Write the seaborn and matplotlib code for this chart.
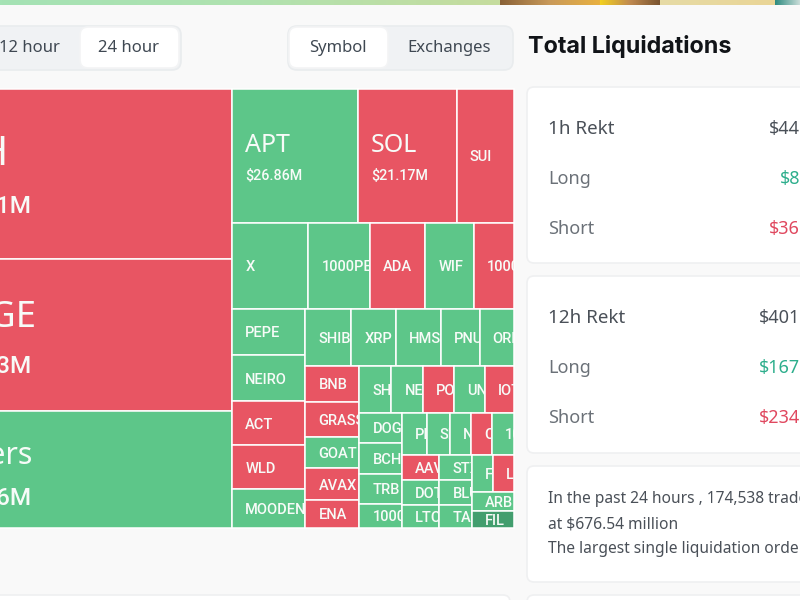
import matplotlib
matplotlib.use("Agg")
import matplotlib.pyplot as plt
from matplotlib.patches import FancyBboxPatch
import numpy as np
import seaborn as sns

big_symbols = ["ETH", "DOGE", "Others"]
big_amounts = [84.31, 75.43, 58.06]
big_sides = ["short", "short", "long"]

top_symbols = ["APT", "SOL", "SUI"]
top_amounts = [26.86, 21.17, 12.22]
top_sides = ["long", "short", "short"]

second_symbols = ["X", "1000PEPE", "ADA", "WIF", "1000BONK"]
second_amounts = [10.46, 8.39, 7.64, 6.67, 5.50]
second_sides = ["long", "long", "short", "long", "short"]

third_symbols = ["PEPE", "NEIRO", "ACT", "WLD", "MOODENG"]
third_amounts = [5.49, 5.37, 5.14, 5.14, 4.56]
third_sides = ["long", "long", "short", "short", "long"]

fourth_symbols = ["SHIB", "XRP", "HMSTR", "PNUT", "ORDI"]
fourth_amounts = [4.20, 4.10, 4.06, 3.56, 3.15]
fourth_sides = ["long"] * 5

fifth_symbols = ["BNB", "GRASS", "GOAT", "AVAX", "ENA"]
fifth_amounts = [3.11, 3.07, 2.68, 2.72, 2.42]
fifth_sides = ["short", "short", "long", "short", "short"]

sixth_symbols = ["SHELL", "NEAR", "POPCAT", "UNI", "IOTA"]
sixth_amounts = [2.41, 2.41, 2.33, 2.33, 2.18]
sixth_sides = ["long", "long", "short", "long", "short"]

seventh_symbols = ["DOGS", "BCH", "TRB", "1000SATS"]
seventh_amounts = [2.06, 2.13, 2.06, 1.65]
seventh_sides = ["long"] * 4

eighth_symbols = ["PEOPLE", "SEI", "NOT", "CRV", "1000FLOKI"]
eighth_amounts = [1.65, 1.55, 1.44, 1.41, 1.48]
eighth_sides = ["long", "long", "long", "short", "long"]

ninth_symbols = ["AAVE", "DOT", "LTC"]
ninth_amounts = [1.45, 1.51, 1.36]
ninth_sides = ["short", "long", "long"]

tenth_symbols = ["STX", "BLUR", "TAO"]
tenth_amounts = [1.30, 1.30, 1.20]
tenth_sides = ["long"] * 3

last_symbols = ["FET", "LINK", "ARB", "FIL"]
last_amounts = [1.24, 1.24, 1.28, 1.14]
last_sides = ["long", "short", "long", "dark"]

panel_1h = ["$44.72M", "$8.21M", "$36.51M"]
panel_12h = ["$401.63M", "$167.42M", "$234.21M"]
panel_names_1h = ["1h Rekt", "Long", "Short"]
panel_names_12h = ["12h Rekt", "Long", "Short"]
summary_lines = [
    "In the past 24 hours , 174,538 traders were liquidated, the total",
    "at $676.54 million",
    "The largest single liquidation order happened on Binance",
]

side_colors = {"long": "#5DC689", "short": "#E85563", "dark": "#429E6E"}

bg = "#F9F9F9"
sns.set_theme(style="white", rc={"figure.facecolor": bg, "axes.facecolor": bg})
plt.rcParams["font.family"] = ["Noto Sans", "DejaVu Sans"]


def group(symbols, amounts, sides):
    return [dict(symbol=a, amount=b, side=c) for a, b, c in zip(symbols, amounts, sides)]


def total(node):
    if isinstance(node, dict):
        return node["amount"]
    return sum(total(n) for n in node)


# nested lists flip direction at each level, same as the site treemap
last_col = [group(last_symbols[:2], last_amounts[:2], last_sides[:2])] + group(last_symbols[2:], last_amounts[2:], last_sides[2:])
bottom_cols = [group(ninth_symbols, ninth_amounts, ninth_sides),
               group(tenth_symbols, tenth_amounts, tenth_sides),
               last_col]
block_e = [group(eighth_symbols, eighth_amounts, eighth_sides), bottom_cols]
block_d = [group(seventh_symbols, seventh_amounts, seventh_sides), block_e]
block_c = [group(sixth_symbols, sixth_amounts, sixth_sides), block_d]
block_b = [group(fifth_symbols, fifth_amounts, fifth_sides), block_c]
block_a = [group(fourth_symbols, fourth_amounts, fourth_sides), block_b]
block_3 = [group(third_symbols, third_amounts, third_sides), block_a]
right_side = [group(top_symbols, top_amounts, top_sides),
              group(second_symbols, second_amounts, second_sides),
              block_3]
tree = [group(big_symbols, big_amounts, big_sides), right_side]


def lay_out(node, x, y, w, h, horizontal, tiles):
    if isinstance(node, dict):
        tiles.append((node, x, y, w, h))
        return
    whole = total(node)
    for child in node:
        share = total(child) / whole
        if horizontal:
            lay_out(child, x, y, w * share, h, False, tiles)
            x += w * share
        else:
            lay_out(child, x, y, w, h * share, True, tiles)
            y += h * share


def card(ax, x, y, w, h, face="white", edge="#EFF0F1", r=7):
    ax.add_patch(FancyBboxPatch((x + r, y + r), w - 2 * r, h - 2 * r, boxstyle=f"round,pad={r},rounding_size={r}",
                                fc=face, ec=edge, lw=1.2))


fig = plt.figure(figsize=(8, 6), dpi=100)
ax = fig.add_axes([0, 0, 1, 1])
ax.set_xlim(0, 800)
ax.set_ylim(600, 0)
ax.axis("off")

# banner strip on top
strip = (sns.blend_palette(["#A5E3B5", "#B0E2B0", "#C6DC9E"], 500)
         + sns.blend_palette(["#8A6238", "#C99A5A", "#E8B040"], 100)
         + sns.blend_palette(["#F2D020", "#C08A50", "#7A5430"], 60)
         + sns.blend_palette(["#E6DBA6", "#EAD596"], 115)
         + sns.blend_palette(["#2F8C80", "#C8DCD8"], 25))
ax.imshow(np.array(strip)[None, :, :], extent=(0, 800, 5.5, 0), aspect="auto", zorder=1)
ax.set_xlim(0, 800)
ax.set_ylim(600, 0)

# toggles
card(ax, -40, 26, 221, 44, face="#F0F2F4", edge="#E9ECEE", r=9)
card(ax, 80, 27, 99, 41, edge="#F3F4F5", r=8)
card(ax, 288, 26, 225, 44, face="#F0F2F4", edge="#E9ECEE", r=9)
card(ax, 289, 27, 99, 41, edge="#F3F4F5", r=8)
for label, x in zip(["12 hour", "24 hour", "Symbol", "Exchanges"], [29, 129, 338, 449]):
    ax.text(x, 48.5, label, ha="center", va="center", fontsize=12, color="#3F4852")

# treemap, drawn as bars
tiles = []
lay_out(tree, -78, 89, 592, 439, True, tiles)
tile_font = dict(color="#F7FBF8", va="center", zorder=3, clip_on=True)
small_font = dict(family="Roboto", fontweight="medium", **tile_font)
for node, x, y, w, h in tiles:
    bar = ax.bar(x, h, width=w, bottom=y, align="edge", color=side_colors[node["side"]],
                 edgecolor="white", linewidth=1.1, zorder=2)[0]
    amount = node["amount"]
    cy = y + h / 2
    if amount > 20:
        size = 7 + 0.255 * amount if amount > 50 else 18
        sub_size = 17.5 if amount > 50 else 10.3
        px = size * 100 / 72
        t = ax.text(x + 13, cy - 0.55 * px + 3, node["symbol"], fontsize=size, **tile_font)
        t2 = ax.text(x + 13, cy + 0.83 * px * (sub_size / (0.62 * size)) ** 0.5, f"${amount:.2f}M",
                     fontsize=sub_size, **small_font)
        t2.set_clip_path(bar)
    else:
        t = ax.text(x + 13, cy + 1.5, node["symbol"], fontsize=10.5, **small_font)
    t.set_clip_path(bar)

# right column
ax.text(528, 46, "Total Liquidations", fontsize=16.8, fontweight="bold", family="Inter", color="#111418", va="center")
card(ax, 527, 87, 320, 176)
card(ax, 527, 276, 320, 177)
card(ax, 527, 466, 320, 116)
card(ax, -20, 595, 530, 40)
card(ax, 527, 595, 320, 40)

value_colors = ["#4A5058", "#2DAE8C", "#E0485F"]
for names, values, top in [(panel_names_1h, panel_1h, 129), (panel_names_12h, panel_12h, 318)]:
    for i, (name, value) in enumerate(zip(names, values)):
        y = top + i * 50
        ax.text(548, y, name, fontsize=13.5 if i == 0 else 13, va="center", color="#4A5058" if i == 0 else "#6B7178")
        ax.text(842, y, value, fontsize=13, va="center", ha="right", color=value_colors[i])

for i, line in enumerate(summary_lines):
    ax.text(548, 499 + i * 25, line, fontsize=11.2, va="center", color="#4A5058")

sns.despine(ax=ax, left=True, bottom=True)
fig.savefig("out.png", dpi=100, facecolor=bg)
